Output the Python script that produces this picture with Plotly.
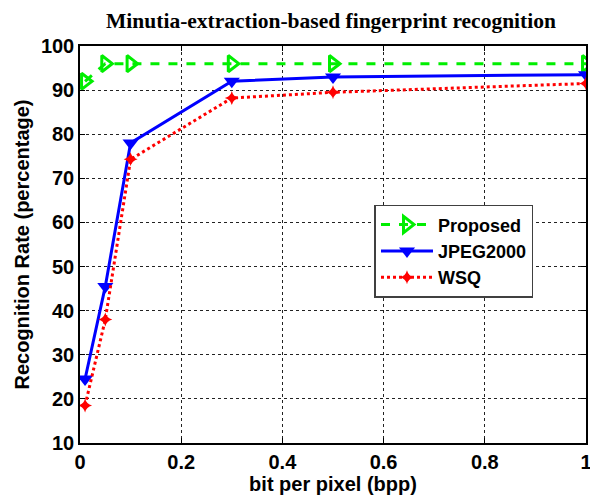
import plotly.graph_objects as go

bpp = [0.01, 0.05, 0.1, 0.3, 0.5, 1.0]
proposed = [92, 96, 96, 96, 96, 96]
jpeg2000 = [24.5, 45.5, 78, 92, 93, 93.5]
wsq = [18.5, 38, 74.3, 88.2, 89.5, 91.5]

x_ticks = [0, 0.2, 0.4, 0.6, 0.8, 1]
x_labels = ["0", "0.2", "0.4", "0.6", "0.8", "1"]
y_ticks = list(range(10, 101, 10))
y_labels = [str(v) for v in y_ticks]

fig = go.Figure()
fig.add_trace(go.Scatter(x=bpp, y=proposed, name="Proposed", mode="lines+markers",
                         line=dict(color="#00ee00", width=3, dash="dash"),
                         marker=dict(symbol="triangle-right-open", size=14, color="#00ee00",
                                     line=dict(width=3, color="#00ee00"))))
fig.add_trace(go.Scatter(x=bpp, y=jpeg2000, name="JPEG2000", mode="lines+markers",
                         line=dict(color="#0000ff", width=3),
                         marker=dict(symbol="triangle-down", size=14, color="#0000ff")))
fig.add_trace(go.Scatter(x=bpp, y=wsq, name="WSQ", mode="lines+markers",
                         line=dict(color="#ff0000", width=3, dash="dot"),
                         marker=dict(symbol="star-diamond", size=10, color="#ff0000")))

tick_font = dict(family="Arial, Liberation Sans", size=20, color="black", weight="bold")
title_font = dict(family="Arial, Liberation Sans", size=20, color="black", weight="bold")
fig.update_layout(
    width=590, height=495,
    paper_bgcolor="white", plot_bgcolor="white",
    margin=dict(l=80, r=4, t=46, b=52),
    title=dict(text="Minutia-extraction-based fingerprint recognition",
               font=dict(family="Liberation Serif, DejaVu Serif", size=21.5, color="black", weight="bold"),
               x=331 / 590, xanchor="center", xref="container", y=1 - 20 / 495, yanchor="middle"),
    showlegend=True,
    legend=dict(x=0.582, y=0.60, xanchor="left", yanchor="top",
                bgcolor="white", bordercolor="#404040", borderwidth=1.5,
                font=dict(family="Arial, Liberation Sans", size=18, color="black", weight="bold"),
                itemwidth=52, tracegroupgap=0),
)
fig.update_xaxes(range=[0, 1], tickvals=x_ticks, ticktext=x_labels,
                 showline=True, linecolor="black", linewidth=1.5, mirror="ticks",
                 ticks="inside", ticklen=5, tickcolor="black",
                 showgrid=True, gridcolor="#222222", griddash="3px,3px", gridwidth=1,
                 zeroline=False, tickfont=tick_font, automargin=False, ticklabeloverflow="allow",
                 title=dict(text="bit per pixel (bpp)", font=title_font, standoff=2))
fig.update_yaxes(range=[10, 100], tickvals=y_ticks, ticktext=y_labels,
                 showline=True, linecolor="black", linewidth=1.5, mirror="ticks",
                 ticks="inside", ticklen=5, tickcolor="black",
                 showgrid=True, gridcolor="#222222", griddash="3px,3px", gridwidth=1,
                 zeroline=False, tickfont=tick_font, automargin=False, ticklabeloverflow="allow",
                 title=dict(text="Recognition Rate (percentage)", font=title_font, standoff=6))
fig.write_html("out.html", config={"displayModeBar": False},
               post_script="document.body.style.margin='0';")
